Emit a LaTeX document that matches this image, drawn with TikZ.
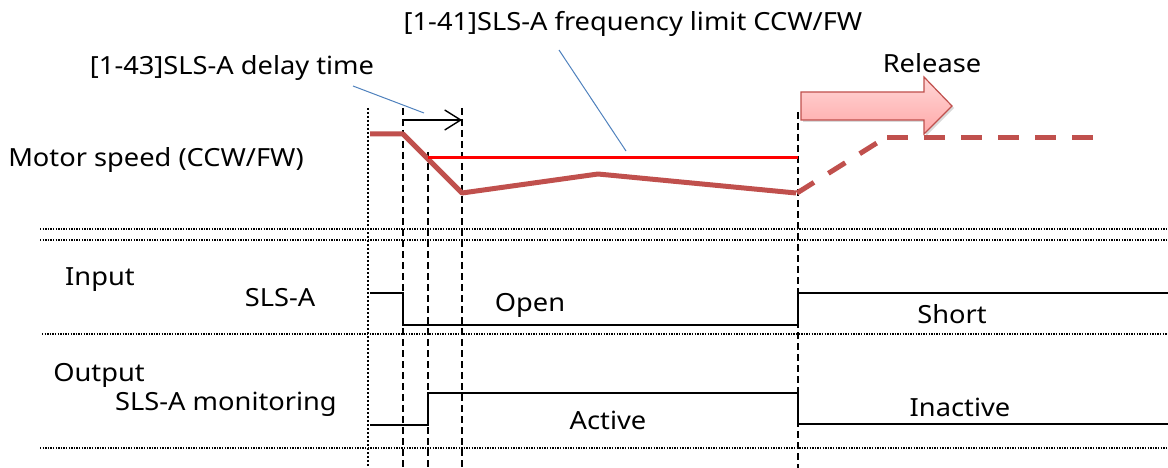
\documentclass[tikz,border=0pt]{standalone}
\usepackage{fontspec}
\setmainfont{Noto Sans}[FakeStretch=1.09]
\usetikzlibrary{arrows.meta,shadows}
\definecolor{speed}{HTML}{C0504D}
\definecolor{callout}{HTML}{4F81BD}
\begin{document}
\begin{tikzpicture}[x=1pt,y=-1pt,
  lbl/.style={inner sep=0pt,anchor=base,font=\fontsize{25}{28}\selectfont},
  hdot/.style={line width=1.3pt,dash pattern=on 1.3pt off 1.3pt},
  vdot/.style={line width=2pt,dash pattern=on 2pt off 2pt},
  vdash/.style={line width=1.4pt,dash pattern=on 7pt off 4pt},
  sig/.style={line width=1.5pt,black},
  spd/.style={line width=5pt,speed,line join=round},
  lim/.style={line width=3pt,red},
  call/.style={line width=1pt,callout}]
\useasboundingbox (0,0) rectangle (1168,468);
% grid lines
\draw[hdot] (40,229) -- (1168,229);
\draw[hdot] (40,240) -- (1168,240);
\draw[hdot] (42,334) -- (1168,334);
\draw[hdot] (40,448) -- (1168,448);
\draw[vdot] (368,108) -- (368,468);
\draw[vdash] (403,108) -- (403,468);
\draw[vdash] (428,152) -- (428,468);
\draw[vdash] (462,108) -- (462,468);
\draw[vdash] (798,112) -- (798,468);
% motor speed
\draw[spd] (370,134) -- (403,134) -- (462,193) -- (598,174) -- (796,193);
\draw[spd,dash pattern=on 20pt off 17pt] (797,193) -- (880,141);
\draw[spd,dash pattern=on 21pt off 16pt] (887,138) -- (1095,138);
\draw[lim] (428,158) -- (798,158);
% delay arrow
\coordinate (d0) at (403,120);
\coordinate (d1) at (462,120);
\draw[line width=1.4pt,-{Straight Barb[length=16pt,width=20pt,line width=1.4pt]}] (d0) -- (d1);
% release arrow
\path[draw=speed,line width=1.2pt,top color=red!16,bottom color=red!34,drop shadow={opacity=0.3,shadow xshift=2pt,shadow yshift=-2pt}]
  (801,92) -- (924,92) -- (924,77) -- (952,106) -- (924,134) -- (924,120) -- (801,120) -- cycle;
% signals
\draw[sig] (370,293) -- (403,293) -- (403,325) -- (798,325) -- (798,293) -- (1168,293);
\draw[sig] (370,425) -- (428,425) -- (428,393) -- (798,393) -- (798,424) -- (1168,424);
% labels
\node[lbl] (tlim) at (633,31) {[1-41]SLS-A frequency limit CCW/FW};
\node[lbl] (tdel) at (232,75) {[1-43]SLS-A delay time};
\node[lbl] (trel) at (932,73) {Release};
\node[lbl] (tmot) at (156,167) {Motor speed (CCW/FW)};
\node[lbl] (tin) at (100,285) {Input};
\node[lbl] (tsls) at (280,306) {SLS-A};
\node[lbl] (topen) at (530,311) {Open};
\node[lbl] (tshort) at (952,323) {Short};
\node[lbl] (tout) at (99,381) {Output};
\node[lbl] (tmon) at (226,410) {SLS-A monitoring};
\node[lbl] (tact) at (608,429) {Active};
\node[lbl] (tinact) at (960,416) {Inactive};
% callouts
\coordinate (c1a) at (353,86);
\coordinate (c1b) at (424,113);
\coordinate (c2a) at (559,50);
\coordinate (c2b) at (626,151);
\draw[call] (c1a) -- (c1b);
\draw[call] (c2a) -- (c2b);
\end{tikzpicture}
\end{document}
